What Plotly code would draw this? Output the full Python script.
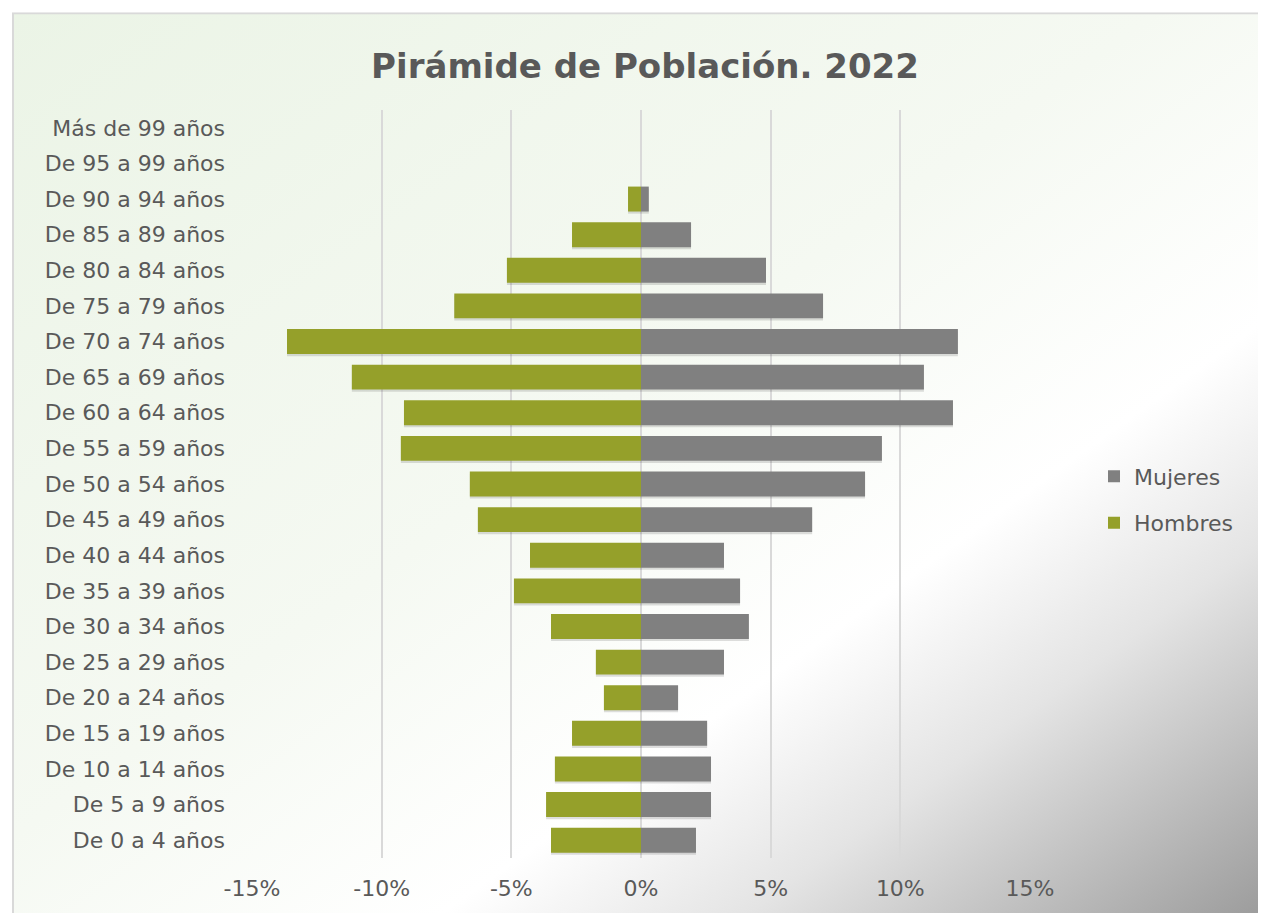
import base64
import plotly.graph_objects as go

categories = [
    "De 0 a 4 años", "De 5 a 9 años", "De 10 a 14 años", "De 15 a 19 años",
    "De 20 a 24 años", "De 25 a 29 años", "De 30 a 34 años", "De 35 a 39 años",
    "De 40 a 44 años", "De 45 a 49 años", "De 50 a 54 años", "De 55 a 59 años",
    "De 60 a 64 años", "De 65 a 69 años", "De 70 a 74 años", "De 75 a 79 años",
    "De 80 a 84 años", "De 85 a 89 años", "De 90 a 94 años", "De 95 a 99 años",
    "Más de 99 años",
]
hombres = [-3.47, -3.66, -3.32, -2.66, -1.43, -1.74, -3.47, -4.90, -4.28, -6.29,
           -6.60, -9.26, -9.14, -11.15, -13.65, -7.20, -5.17, -2.66, -0.50, 0.0, 0.0]
mujeres = [2.12, 2.70, 2.70, 2.55, 1.43, 3.20, 4.16, 3.82, 3.20, 6.60,
           8.64, 9.29, 12.03, 10.91, 12.22, 7.02, 4.82, 1.93, 0.30, 0.0, 0.0]
tick_vals = [-15, -10, -5, 0, 5, 10, 15]
tick_text = ["-15%", "-10%", "-5%", "0%", "5%", "10%", "15%"]

W, H = 1258, 905
L, R, T, B = 244, 1022, 102, 852
FONT = "DejaVu Sans"
TXT = "#595959"

# Background gradient of the chart area, as an SVG image
bx0, by0 = 4, 4
bw, bh = W + 20 - bx0, H + 20 - by0
svg = f'''<svg xmlns="http://www.w3.org/2000/svg" width="{bw}" height="{bh}" viewBox="0 0 {bw} {bh}">
<defs><linearGradient id="g" x1="0" y1="0" x2="1" y2="1">
<stop offset="0" stop-color="#ebf4e6"/>
<stop offset="0.45" stop-color="#f5f9f2"/>
<stop offset="0.66" stop-color="#ffffff"/>
<stop offset="0.78" stop-color="#e4e4e4"/>
<stop offset="1" stop-color="#969696"/>
</linearGradient></defs>
<rect x="1" y="1" width="{bw-2}" height="{bh-2}" fill="url(#g)" stroke="#d9d9d9" stroke-width="2"/>
</svg>'''
src = "data:image/svg+xml;base64," + base64.b64encode(svg.encode()).decode()

pw, ph = R - L, B - T
BW = 0.7
SH = 0.06

fig = go.Figure()
# soft shadows under the bars
for vals in (mujeres, hombres):
    fig.add_trace(go.Bar(
        y=categories, x=vals, orientation="h", width=BW, offset=-BW / 2 - SH,
        marker=dict(color="rgba(0,0,0,0.13)", line=dict(width=0)),
        showlegend=False, hoverinfo="skip",
    ))
fig.add_trace(go.Bar(
    y=categories, x=mujeres, name="Mujeres", orientation="h", legendgroup="m",
    marker=dict(color="#808080", line=dict(width=0)), width=BW, offset=-BW / 2,
))
fig.add_trace(go.Bar(
    y=categories, x=hombres, name="Hombres", orientation="h", legendgroup="h",
    marker=dict(color="#95a02a", line=dict(width=0)), width=BW, offset=-BW / 2,
))

fig.update_layout(
    width=W, height=H,
    margin=dict(l=L, r=W - R, t=T, b=H - B, pad=0),
    barmode="overlay",
    paper_bgcolor="white",
    plot_bgcolor="rgba(0,0,0,0)",
    font=dict(family=FONT, color=TXT, size=22),
    title=dict(
        text="<b>Pirámide de Población. 2022</b>",
        x=637 / W, xanchor="center", y=1 - 58 / H, yanchor="middle",
        font=dict(family=FONT, size=34, color=TXT),
    ),
    legend=dict(
        x=(1086 - L) / pw, xanchor="left", y=(B - 493) / ph, yanchor="middle",
        bgcolor="rgba(0,0,0,0)", font=dict(family=FONT, size=22, color=TXT),
        traceorder="grouped", tracegroupgap=15, itemwidth=30,
    ),
    xaxis=dict(
        range=[-15, 15], tickvals=tick_vals, ticktext=tick_text,
        showgrid=True, gridcolor="#d9d9d9", gridwidth=2,
        zeroline=False, showline=False, ticks="", ticklabelstandoff=15,
        fixedrange=True,
    ),
    yaxis=dict(
        categoryorder="array", categoryarray=categories,
        showgrid=False, zeroline=False, showline=False, ticks="",
        ticklabelstandoff=26, fixedrange=True,
    ),
    images=[dict(
        source=src, xref="paper", yref="paper",
        x=(bx0 - L) / pw, y=(B - by0) / ph, sizex=bw / pw, sizey=bh / ph,
        xanchor="left", yanchor="top", sizing="stretch", layer="below",
    )],
    showlegend=True,
)

fig.write_html("out.html")
